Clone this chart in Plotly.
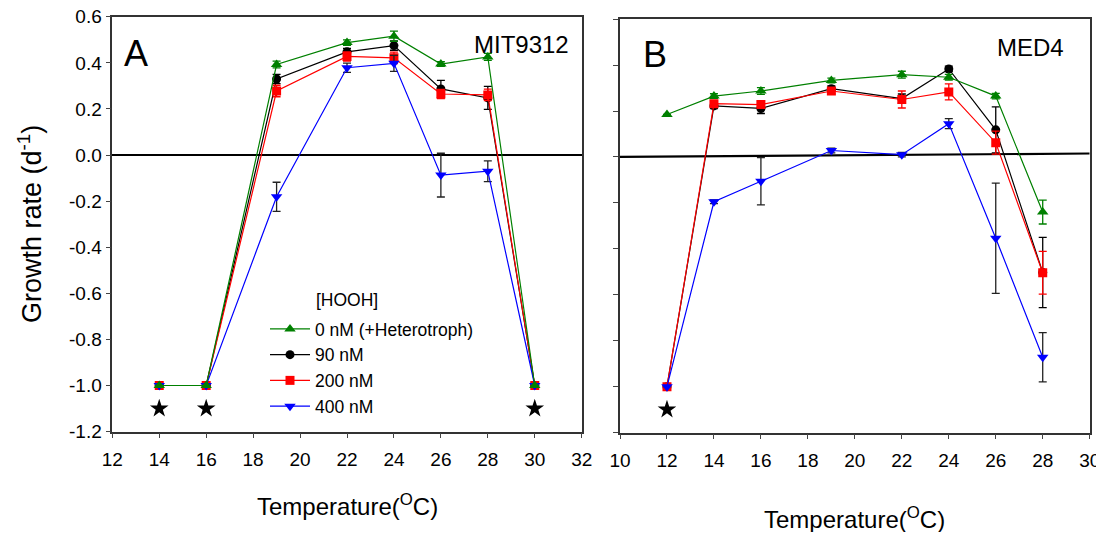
import plotly.graph_objects as go

# ---------------- data ----------------
temps_A = [14, 16, 19, 22, 24, 26, 28, 30]
A_0nM = [-1.0, -1.0, 0.393, 0.488, 0.516, 0.395, 0.426, -1.0]
A_0nM_err = [0, 0, 0.015, 0.012, 0.022, 0.01, 0.015, 0]
A_90nM = [-1.0, -1.0, 0.33, 0.448, 0.475, 0.287, 0.248, -1.0]
A_90nM_err = [0, 0, 0.02, 0.015, 0.02, 0.037, 0.05, 0]
A_200nM = [-1.0, -1.0, 0.278, 0.428, 0.422, 0.265, 0.261, -1.0]
A_200nM_err = [0, 0, 0.025, 0.02, 0.025, 0.02, 0.025, 0]
A_400nM = [-1.0, -1.0, -0.181, 0.379, 0.398, -0.087, -0.07, -1.0]
A_400nM_err = [0, 0, 0.063, 0.02, 0.035, 0.095, 0.045, 0]

temps_B = [12, 14, 16, 19, 22, 24, 26, 28]
B_0nM = [0.185, 0.265, 0.287, 0.333, 0.358, 0.347, 0.265, -0.24]
B_0nM_err = [0, 0.01, 0.015, 0.01, 0.015, 0.012, 0.012, 0.052]
B_90nM = [-1.0, 0.222, 0.211, 0.297, 0.254, 0.383, 0.118, -0.503]
B_90nM_err = [0, 0.012, 0.022, 0.012, 0.02, 0.012, 0.1, 0.153]
B_200nM = [-1.0, 0.232, 0.228, 0.287, 0.25, 0.283, 0.062, -0.504]
B_200nM_err = [0, 0.012, 0.012, 0.012, 0.037, 0.035, 0.05, 0.093]
B_400nM = [-1.0, -0.195, -0.106, 0.028, 0.01, 0.145, -0.354, -0.872]
B_400nM_err = [0, 0.008, 0.103, 0.01, 0.01, 0.022, 0.24, 0.107]

star_A_x = [14, 16, 30]
star_B_x = [12]
star_level = -1.1
zero_line_B = [0.0, 0.015]

series_names = ["0 nM (+Heterotroph)", "90 nM", "200 nM", "400 nM"]
x_ticks_A = [12, 14, 16, 18, 20, 22, 24, 26, 28, 30, 32]
x_ticks_B = [10, 12, 14, 16, 18, 20, 22, 24, 26, 28, 30]
y_ticks = [0.6, 0.4, 0.2, 0.0, -0.2, -0.4, -0.6, -0.8, -1.0, -1.2]
y_tick_text = ["0.6", "0.4", "0.2", "0.0", "-0.2", "-0.4", "-0.6", "-0.8", "-1.0", "-1.2"]

# ---------------- style ----------------
OFF = 8  # page body margin
W, H = 1104 - OFF, 540 - 2 * OFF
FONT = "Liberation Sans, Arial, sans-serif"
EPS = 0.0005
styles = {
    "0 nM (+Heterotroph)": dict(color="#008000", symbol="triangle-up", size=10, ecol="#008000"),
    "90 nM": dict(color="#000000", symbol="circle", size=9, ecol="#000000"),
    "200 nM": dict(color="#ff0000", symbol="square", size=9, ecol="#ff0000"),
    "400 nM": dict(color="#0000ff", symbol="triangle-down", size=10, ecol="#222222"),
}
rank = {n: i for i, n in enumerate(series_names)}

def px(x):
    return (x - OFF) / W

def py(y):
    return 1 - (y - OFF) / H

fig = go.Figure()

data_A = {"0 nM (+Heterotroph)": (A_0nM, A_0nM_err), "90 nM": (A_90nM, A_90nM_err),
          "200 nM": (A_200nM, A_200nM_err), "400 nM": (A_400nM, A_400nM_err)}
data_B = {"0 nM (+Heterotroph)": (B_0nM, B_0nM_err), "90 nM": (B_90nM, B_90nM_err),
          "200 nM": (B_200nM, B_200nM_err), "400 nM": (B_400nM, B_400nM_err)}

draw_order = ["90 nM", "200 nM", "400 nM", "0 nM (+Heterotroph)"]
for temps, data, xa, ya, show in [(temps_A, data_A, "x", "y", True),
                                   (temps_B, data_B, "x2", "y2", False)]:
    for name in draw_order:
        vals, errs = data[name]
        st = styles[name]
        fig.add_trace(go.Scatter(
            x=temps, y=vals, name=name, mode="lines+markers",
            xaxis=xa, yaxis=ya, showlegend=show, legendrank=rank[name] + 1,
            line=dict(color=st["color"], width=1.2),
            marker=dict(symbol=st["symbol"], size=st["size"], color=st["color"]),
            error_y=dict(type="data", array=errs, visible=True, color=st["ecol"],
                         thickness=1.3, width=4),
        ))

fig.add_trace(go.Scatter(x=star_A_x, y=[star_level] * len(star_A_x), mode="markers",
                         xaxis="x", yaxis="y", showlegend=False,
                         marker=dict(symbol="star", size=14, color="black")))
fig.add_trace(go.Scatter(x=star_B_x, y=[star_level] * len(star_B_x), mode="markers",
                         xaxis="x2", yaxis="y2", showlegend=False,
                         marker=dict(symbol="star", size=14, color="black")))

tick_font = dict(family=FONT, size=19, color="black")
common_x = dict(showgrid=False, zeroline=False, showline=True, linecolor="#333",
                linewidth=1.5, mirror=True, ticks="outside", ticklen=5, tickwidth=1.3,
                tickcolor="#444", tickfont=tick_font, automargin=False,
                ticklabelstandoff=5, ticklabeloverflow="allow")
common_y = dict(showgrid=False, showline=True, linecolor="#333", linewidth=1.5,
                mirror=True, ticks="outside", ticklen=5, tickwidth=1.3, tickcolor="#444",
                tickfont=tick_font, range=[y_ticks[-1] - EPS, y_ticks[0] + EPS],
                tickvals=y_ticks, ticktext=y_tick_text, automargin=False,
                ticklabeloverflow="allow")

fig.update_layout(
    template="none",
    width=W, height=H, margin=dict(l=0, r=0, t=0, b=0, autoexpand=False),
    paper_bgcolor="white", plot_bgcolor="white",
    font=dict(family=FONT, color="black"),
    xaxis=dict(common_x, domain=[px(112.3), px(581.7)],
               range=[x_ticks_A[0] - EPS, x_ticks_A[-1] + EPS], tickvals=x_ticks_A,
               anchor="y"),
    yaxis=dict(common_y, domain=[py(431.7), py(16.7)], anchor="x", zeroline=True,
               zerolinecolor="black", zerolinewidth=2.2),
    xaxis2=dict(common_x, domain=[px(620), px(1089.7)],
                range=[x_ticks_B[0] - EPS, x_ticks_B[-1] + EPS], tickvals=x_ticks_B,
                anchor="y2"),
    yaxis2=dict(common_y, domain=[py(432.7), py(19)], anchor="x2", zeroline=False,
                showticklabels=False),
    legend=dict(x=px(265), y=py(311), xanchor="left", yanchor="top",
                bgcolor="rgba(0,0,0,0)", font=dict(family=FONT, size=17.5, color="black"),
                itemwidth=40, tracegroupgap=0, borderwidth=0),
    showlegend=True,
)

fig.add_shape(type="line", xref="x2", yref="y2", x0=x_ticks_B[0], x1=x_ticks_B[-1],
              y0=zero_line_B[0], y1=zero_line_B[1], line=dict(color="black", width=2.2),
              layer="below")

ann = [
    dict(text="A", x=136, y=53, size=36),
    dict(text="B", x=655, y=55, size=36),
    dict(text="MIT9312", x=521, y=45, size=24),
    dict(text="MED4", x=1030, y=47, size=24),
    dict(text="[HOOH]", x=347, y=300, size=17.5),
    dict(text="Temperature(<sup>O</sup>C)", x=347, y=505, size=24),
    dict(text="Temperature(<sup>O</sup>C)", x=854, y=518, size=24),
]
for a in ann:
    fig.add_annotation(text=a["text"], x=px(a["x"]), y=py(a["y"]), xref="paper", yref="paper",
                       xanchor="center", yanchor="middle", showarrow=False,
                       font=dict(family=FONT, size=a["size"], color="black"))
fig.add_annotation(text="Growth rate (d<sup>-1</sup>)", x=px(30), y=py(224), xref="paper",
                   yref="paper", xanchor="center", yanchor="middle", showarrow=False,
                   textangle=-90, font=dict(family=FONT, size=27, color="black"))

fig.write_html("out.html")
